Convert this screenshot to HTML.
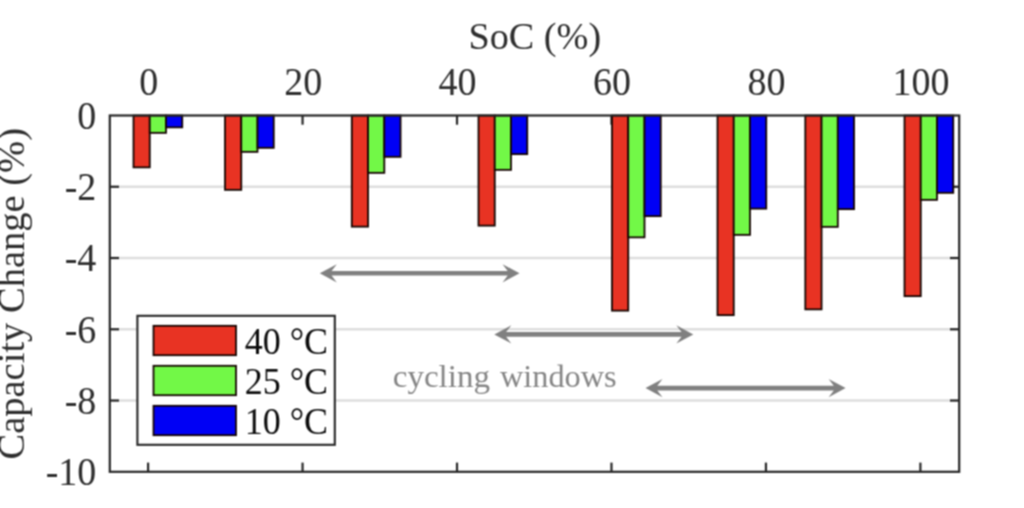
<!DOCTYPE html>
<html><head><meta charset="utf-8"><title>chart</title>
<style>html,body{margin:0;padding:0;background:#fff;overflow:hidden}body{width:1024px;height:508px}</style></head>
<body>
<svg width="1024" height="508" viewBox="0 0 1024 508" style="display:block">
<rect width="1024" height="508" fill="#fff"/>
<defs><filter id="soft" color-interpolation-filters="sRGB" x="0" y="0" width="1024" height="508" filterUnits="userSpaceOnUse"><feConvolveMatrix order="3" kernelMatrix="1 2 1 2 4 2 1 2 1" divisor="16" edgeMode="duplicate" preserveAlpha="true"/></filter></defs>
<g id="chart" filter="url(#soft)">
<rect x="-10" y="-10" width="1044" height="528" fill="#fff"/>
<line x1="109.8" x2="959.2" y1="186.76" y2="186.76" stroke="#dedede" stroke-width="2.6"/>
<line x1="109.8" x2="959.2" y1="258.02" y2="258.02" stroke="#dedede" stroke-width="2.6"/>
<line x1="109.8" x2="959.2" y1="329.28" y2="329.28" stroke="#dedede" stroke-width="2.6"/>
<line x1="109.8" x2="959.2" y1="400.54" y2="400.54" stroke="#dedede" stroke-width="2.6"/>
<line x1="148.10" x2="148.10" y1="115.5" y2="124.7" stroke="#262626" stroke-width="2.2"/>
<line x1="148.10" x2="148.10" y1="471.8" y2="462.6" stroke="#262626" stroke-width="2.2"/>
<line x1="302.56" x2="302.56" y1="115.5" y2="124.7" stroke="#262626" stroke-width="2.2"/>
<line x1="302.56" x2="302.56" y1="471.8" y2="462.6" stroke="#262626" stroke-width="2.2"/>
<line x1="457.02" x2="457.02" y1="115.5" y2="124.7" stroke="#262626" stroke-width="2.2"/>
<line x1="457.02" x2="457.02" y1="471.8" y2="462.6" stroke="#262626" stroke-width="2.2"/>
<line x1="611.48" x2="611.48" y1="115.5" y2="124.7" stroke="#262626" stroke-width="2.2"/>
<line x1="611.48" x2="611.48" y1="471.8" y2="462.6" stroke="#262626" stroke-width="2.2"/>
<line x1="765.94" x2="765.94" y1="115.5" y2="124.7" stroke="#262626" stroke-width="2.2"/>
<line x1="765.94" x2="765.94" y1="471.8" y2="462.6" stroke="#262626" stroke-width="2.2"/>
<line x1="920.40" x2="920.40" y1="115.5" y2="124.7" stroke="#262626" stroke-width="2.2"/>
<line x1="920.40" x2="920.40" y1="471.8" y2="462.6" stroke="#262626" stroke-width="2.2"/>
<line x1="109.8" x2="119.0" y1="186.76" y2="186.76" stroke="#262626" stroke-width="2.2"/>
<line x1="959.2" x2="950.0" y1="186.76" y2="186.76" stroke="#262626" stroke-width="2.2"/>
<line x1="109.8" x2="119.0" y1="258.02" y2="258.02" stroke="#262626" stroke-width="2.2"/>
<line x1="959.2" x2="950.0" y1="258.02" y2="258.02" stroke="#262626" stroke-width="2.2"/>
<line x1="109.8" x2="119.0" y1="329.28" y2="329.28" stroke="#262626" stroke-width="2.2"/>
<line x1="959.2" x2="950.0" y1="329.28" y2="329.28" stroke="#262626" stroke-width="2.2"/>
<line x1="109.8" x2="119.0" y1="400.54" y2="400.54" stroke="#262626" stroke-width="2.2"/>
<line x1="959.2" x2="950.0" y1="400.54" y2="400.54" stroke="#262626" stroke-width="2.2"/>
<rect x="133.50" y="115.5" width="16.25" height="51.85" fill="#e83323" stroke="#140400" stroke-width="1.8"/>
<rect x="149.75" y="115.5" width="16.25" height="17.35" fill="#72f847" stroke="#140400" stroke-width="1.8"/>
<rect x="166.00" y="115.5" width="16.25" height="11.85" fill="#0000f5" stroke="#140400" stroke-width="1.8"/>
<rect x="225.00" y="115.5" width="16.25" height="74.35" fill="#e83323" stroke="#140400" stroke-width="1.8"/>
<rect x="241.25" y="115.5" width="16.25" height="36.35" fill="#72f847" stroke="#140400" stroke-width="1.8"/>
<rect x="257.50" y="115.5" width="16.25" height="32.35" fill="#0000f5" stroke="#140400" stroke-width="1.8"/>
<rect x="351.80" y="115.5" width="16.25" height="111.15" fill="#e83323" stroke="#140400" stroke-width="1.8"/>
<rect x="368.05" y="115.5" width="16.25" height="57.35" fill="#72f847" stroke="#140400" stroke-width="1.8"/>
<rect x="384.30" y="115.5" width="16.25" height="41.35" fill="#0000f5" stroke="#140400" stroke-width="1.8"/>
<rect x="478.50" y="115.5" width="16.25" height="110.15" fill="#e83323" stroke="#140400" stroke-width="1.8"/>
<rect x="494.75" y="115.5" width="16.25" height="54.35" fill="#72f847" stroke="#140400" stroke-width="1.8"/>
<rect x="511.00" y="115.5" width="16.25" height="38.65" fill="#0000f5" stroke="#140400" stroke-width="1.8"/>
<rect x="612.00" y="115.5" width="16.25" height="195.15" fill="#e83323" stroke="#140400" stroke-width="1.8"/>
<rect x="628.25" y="115.5" width="16.25" height="121.85" fill="#72f847" stroke="#140400" stroke-width="1.8"/>
<rect x="644.50" y="115.5" width="16.25" height="100.65" fill="#0000f5" stroke="#140400" stroke-width="1.8"/>
<rect x="717.50" y="115.5" width="16.25" height="199.65" fill="#e83323" stroke="#140400" stroke-width="1.8"/>
<rect x="733.75" y="115.5" width="16.25" height="119.35" fill="#72f847" stroke="#140400" stroke-width="1.8"/>
<rect x="750.00" y="115.5" width="16.25" height="93.15" fill="#0000f5" stroke="#140400" stroke-width="1.8"/>
<rect x="805.30" y="115.5" width="16.25" height="193.85" fill="#e83323" stroke="#140400" stroke-width="1.8"/>
<rect x="821.55" y="115.5" width="16.25" height="111.35" fill="#72f847" stroke="#140400" stroke-width="1.8"/>
<rect x="837.80" y="115.5" width="16.25" height="93.65" fill="#0000f5" stroke="#140400" stroke-width="1.8"/>
<rect x="904.50" y="115.5" width="16.25" height="180.65" fill="#e83323" stroke="#140400" stroke-width="1.8"/>
<rect x="920.75" y="115.5" width="16.25" height="84.35" fill="#72f847" stroke="#140400" stroke-width="1.8"/>
<rect x="937.00" y="115.5" width="16.25" height="77.35" fill="#0000f5" stroke="#140400" stroke-width="1.8"/>
<rect x="109.8" y="115.5" width="849.40" height="356.30" fill="none" stroke="#262626" stroke-width="2.2"/>
<g font-family="Liberation Serif, serif" font-size="38" fill="#2e2e2e">
<text transform="translate(148.7,94.5) scale(1,1.07)" text-anchor="middle">0</text>
<text transform="translate(303.2,94.5) scale(1,1.07)" text-anchor="middle">20</text>
<text transform="translate(457.6,94.5) scale(1,1.07)" text-anchor="middle">40</text>
<text transform="translate(612.1,94.5) scale(1,1.07)" text-anchor="middle">60</text>
<text transform="translate(766.5,94.5) scale(1,1.07)" text-anchor="middle">80</text>
<text transform="translate(921.0,94.5) scale(1,1.07)" text-anchor="middle">100</text>
<text transform="translate(96.3,128.8) scale(1,1.07)" text-anchor="end">0</text>
<text transform="translate(96.3,200.1) scale(1,1.07)" text-anchor="end">-2</text>
<text transform="translate(96.3,271.3) scale(1,1.07)" text-anchor="end">-4</text>
<text transform="translate(96.3,342.6) scale(1,1.07)" text-anchor="end">-6</text>
<text transform="translate(96.3,413.8) scale(1,1.07)" text-anchor="end">-8</text>
<text transform="translate(96.3,485.1) scale(1,1.07)" text-anchor="end">-10</text>
<text transform="translate(534.8,48.8) scale(1,1.02)" text-anchor="middle" font-size="38.2">SoC (%)</text>
<text transform="translate(24.2,293.8) rotate(-90) scale(1.03,1)" text-anchor="middle" font-size="37.4">Capacity Change (%)</text>
</g>
<rect x="137.4" y="315.8" width="197.4" height="129.0" fill="#fff" stroke="#262626" stroke-width="2.1"/>
<rect x="153.5" y="325.8" width="82.5" height="29.4" fill="#e83323" stroke="#140400" stroke-width="1.8"/>
<text transform="translate(244.7,354.1) scale(1,1.04)" font-family="Liberation Serif, serif" font-size="36" fill="#0c0c0c">40 °C</text>
<rect x="153.5" y="365.8" width="82.5" height="29.4" fill="#72f847" stroke="#140400" stroke-width="1.8"/>
<text transform="translate(244.7,393.8) scale(1,1.04)" font-family="Liberation Serif, serif" font-size="36" fill="#0c0c0c">25 °C</text>
<rect x="153.5" y="405.8" width="82.5" height="29.4" fill="#0000f5" stroke="#140400" stroke-width="1.8"/>
<text transform="translate(244.7,433.5) scale(1,1.04)" font-family="Liberation Serif, serif" font-size="36" fill="#0c0c0c">10 °C</text>
<polygon fill="#808080" points="319.80,273.30 336.80,264.20 331.60,271.00 507.70,271.00 502.50,264.20 519.50,273.30 502.50,282.40 507.70,275.60 331.60,275.60 336.80,282.40"/>
<polygon fill="#808080" points="494.30,334.40 511.30,325.30 506.10,332.10 681.50,332.10 676.30,325.30 693.30,334.40 676.30,343.50 681.50,336.70 506.10,336.70 511.30,343.50"/>
<polygon fill="#808080" points="645.50,388.10 662.50,379.00 657.30,385.80 833.80,385.80 828.60,379.00 845.60,388.10 828.60,397.20 833.80,390.40 657.30,390.40 662.50,397.20"/>
<text transform="translate(392.7,386.8) scale(1.04,1)" font-family="Liberation Serif, serif" font-size="31.8" fill="#858585">cycling</text>
<text transform="translate(499.9,386.8) scale(1.017,1)" font-family="Liberation Serif, serif" font-size="31.8" fill="#858585">windows</text>
</g>
</svg>
</body></html>
